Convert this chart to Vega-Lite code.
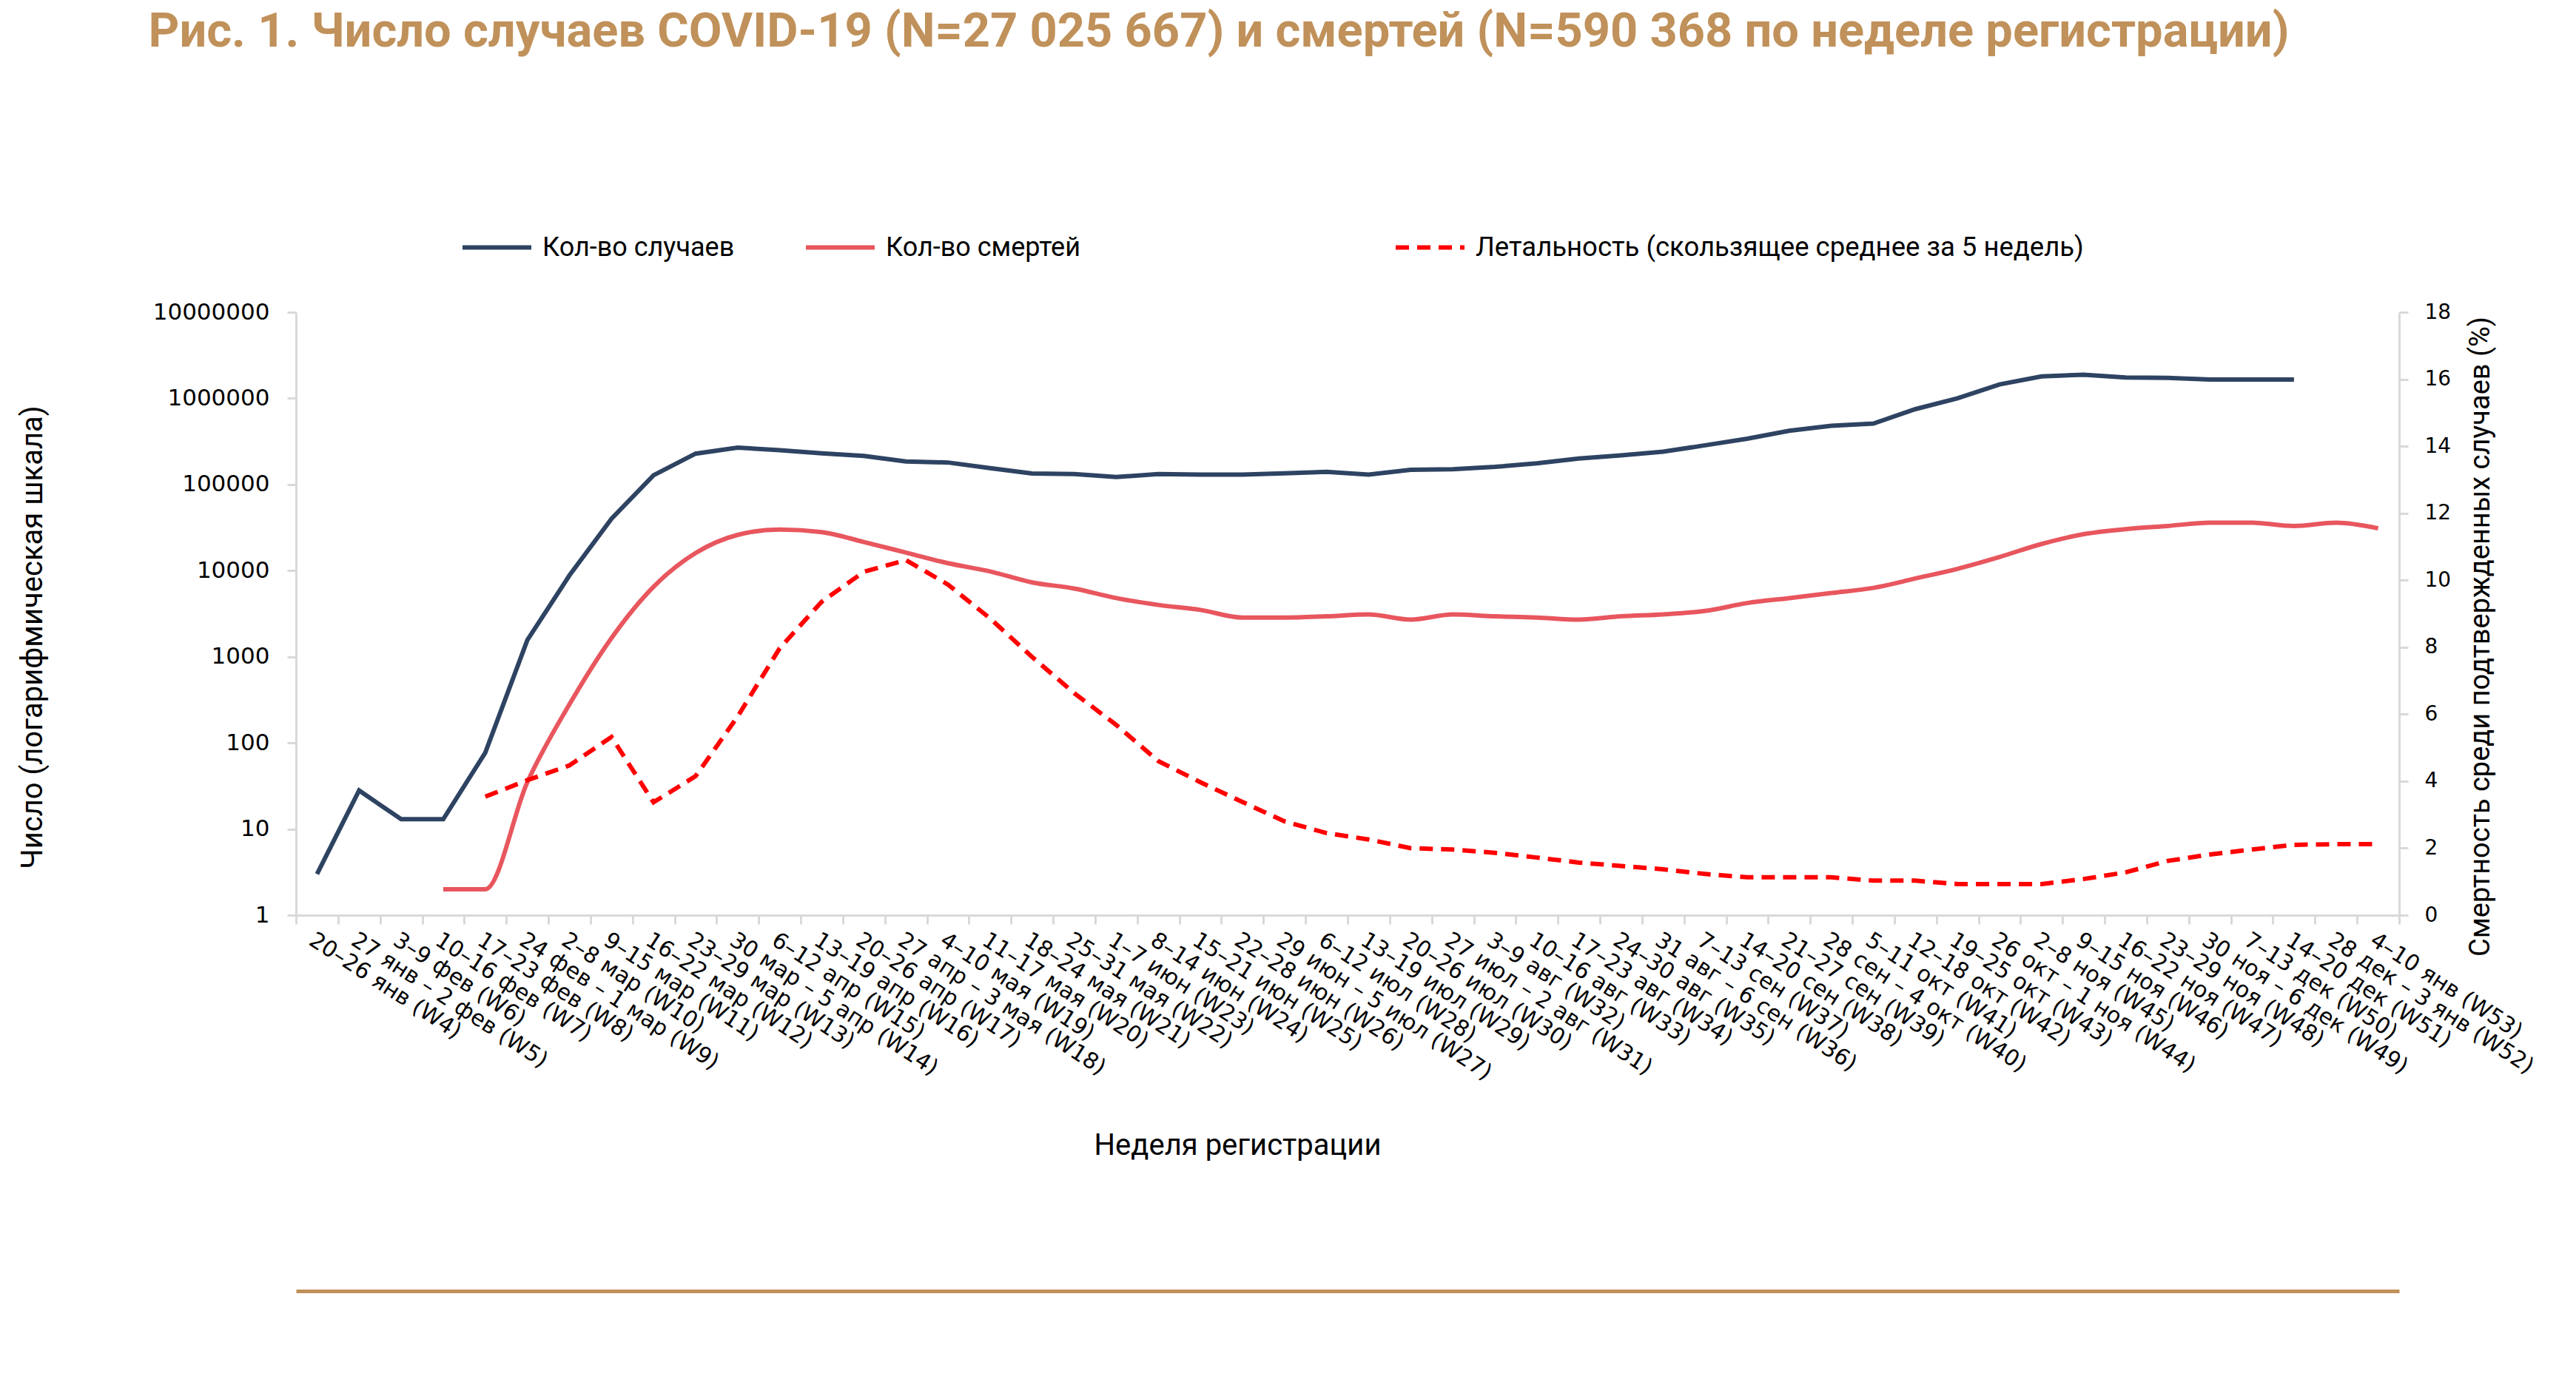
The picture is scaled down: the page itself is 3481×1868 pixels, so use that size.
{
  "$schema": "https://vega.github.io/schema/vega-lite/v6.json",
  "width": 2842,
  "height": 815,
  "autosize": {"type": "none"},
  "padding": {"left": 400, "top": 422, "right": 239, "bottom": 631},
  "background": "white",
  "config": {"view": {"stroke": null}},
  "title": {
    "text": "Рис. 1. Число случаев COVID-19 (N=27 025 667) и смертей (N=590 368 по неделе регистрации)",
    "anchor": "middle", "frame": "group", "dx": -174, "offset": 208,
    "font": "Roboto", "fontSize": 65, "fontWeight": "bold", "color": "#C0915A"
  },
  "data": {"values": [
    {"week": "20–26 янв (W4)", "cases": 3, "deaths": null, "cfr": null},
    {"week": "27 янв – 2 фев (W5)", "cases": 28, "deaths": null, "cfr": null},
    {"week": "3–9 фев (W6)", "cases": 13, "deaths": null, "cfr": null},
    {"week": "10–16 фев (W7)", "cases": 13, "deaths": 2, "cfr": null},
    {"week": "17–23 фев (W8)", "cases": 77, "deaths": 2, "cfr": 3.54},
    {"week": "24 фев – 1 мар (W9)", "cases": 1560, "deaths": 35, "cfr": 4.03},
    {"week": "2–8 мар (W10)", "cases": 8800, "deaths": 280, "cfr": 4.47},
    {"week": "9–15 мар (W11)", "cases": 40000, "deaths": 1650, "cfr": 5.32},
    {"week": "16–22 мар (W12)", "cases": 128000, "deaths": 6500, "cfr": 3.37},
    {"week": "23–29 мар (W13)", "cases": 228000, "deaths": 16000, "cfr": 4.15},
    {"week": "30 мар – 5 апр (W14)", "cases": 268000, "deaths": 26000, "cfr": 5.93},
    {"week": "6–12 апр (W15)", "cases": 250000, "deaths": 30000, "cfr": 7.97},
    {"week": "13–19 апр (W16)", "cases": 230000, "deaths": 28000, "cfr": 9.36},
    {"week": "20–26 апр (W17)", "cases": 215000, "deaths": 21500, "cfr": 10.25},
    {"week": "27 апр – 3 мая (W18)", "cases": 185000, "deaths": 16200, "cfr": 10.6},
    {"week": "4–10 мая (W19)", "cases": 180000, "deaths": 12200, "cfr": 9.87},
    {"week": "11–17 мая (W20)", "cases": 155000, "deaths": 9800, "cfr": 8.86},
    {"week": "18–24 мая (W21)", "cases": 134000, "deaths": 7300, "cfr": 7.71},
    {"week": "25–31 мая (W22)", "cases": 132000, "deaths": 6200, "cfr": 6.63},
    {"week": "1–7 июн (W23)", "cases": 122000, "deaths": 4800, "cfr": 5.68},
    {"week": "8–14 июн (W24)", "cases": 132000, "deaths": 4000, "cfr": 4.6},
    {"week": "15–21 июн (W25)", "cases": 130000, "deaths": 3500, "cfr": 3.97},
    {"week": "22–28 июн (W26)", "cases": 130000, "deaths": 2850, "cfr": 3.38},
    {"week": "29 июн – 5 июл (W27)", "cases": 135000, "deaths": 2850, "cfr": 2.8},
    {"week": "6–12 июл (W28)", "cases": 140000, "deaths": 2950, "cfr": 2.45},
    {"week": "13–19 июл (W29)", "cases": 130000, "deaths": 3100, "cfr": 2.26},
    {"week": "20–26 июл (W30)", "cases": 148000, "deaths": 2700, "cfr": 2.0},
    {"week": "27 июл – 2 авг (W31)", "cases": 150000, "deaths": 3100, "cfr": 1.96},
    {"week": "3–9 авг (W32)", "cases": 160000, "deaths": 2950, "cfr": 1.86},
    {"week": "10–16 авг (W33)", "cases": 176000, "deaths": 2850, "cfr": 1.72},
    {"week": "17–23 авг (W34)", "cases": 200000, "deaths": 2700, "cfr": 1.57},
    {"week": "24–30 авг (W35)", "cases": 218000, "deaths": 2950, "cfr": 1.47},
    {"week": "31 авг – 6 сен (W36)", "cases": 240000, "deaths": 3100, "cfr": 1.37},
    {"week": "7–13 сен (W37)", "cases": 285000, "deaths": 3400, "cfr": 1.23},
    {"week": "14–20 сен (W38)", "cases": 340000, "deaths": 4200, "cfr": 1.13},
    {"week": "21–27 сен (W39)", "cases": 420000, "deaths": 4800, "cfr": 1.13},
    {"week": "28 сен – 4 окт (W40)", "cases": 480000, "deaths": 5500, "cfr": 1.13},
    {"week": "5–11 окт (W41)", "cases": 510000, "deaths": 6300, "cfr": 1.03},
    {"week": "12–18 окт (W42)", "cases": 750000, "deaths": 8100, "cfr": 1.03},
    {"week": "19–25 окт (W43)", "cases": 1000000, "deaths": 10500, "cfr": 0.93},
    {"week": "26 окт – 1 ноя (W44)", "cases": 1450000, "deaths": 14400, "cfr": 0.93},
    {"week": "2–8 ноя (W45)", "cases": 1800000, "deaths": 20400, "cfr": 0.93},
    {"week": "9–15 ноя (W46)", "cases": 1880000, "deaths": 26500, "cfr": 1.08},
    {"week": "16–22 ноя (W47)", "cases": 1750000, "deaths": 30300, "cfr": 1.28},
    {"week": "23–29 ноя (W48)", "cases": 1730000, "deaths": 33000, "cfr": 1.62},
    {"week": "30 ноя – 6 дек (W49)", "cases": 1650000, "deaths": 36000, "cfr": 1.81},
    {"week": "7–13 дек (W50)", "cases": 1650000, "deaths": 36000, "cfr": 1.96},
    {"week": "14–20 дек (W51)", "cases": 1650000, "deaths": 33000, "cfr": 2.1},
    {"week": "28 дек – 3 янв (W52)", "cases": null, "deaths": 36000, "cfr": 2.12},
    {"week": "4–10 янв (W53)", "cases": null, "deaths": 31000, "cfr": 2.12}
  ]},
  "layer": [
    {
      "encoding": {
        "x": {
          "field": "week", "type": "ordinal",
          "scale": {"type": "band", "paddingInner": 0, "paddingOuter": 0, "domain": ["20–26 янв (W4)", "27 янв – 2 фев (W5)", "3–9 фев (W6)", "10–16 фев (W7)", "17–23 фев (W8)", "24 фев – 1 мар (W9)", "2–8 мар (W10)", "9–15 мар (W11)", "16–22 мар (W12)", "23–29 мар (W13)", "30 мар – 5 апр (W14)", "6–12 апр (W15)", "13–19 апр (W16)", "20–26 апр (W17)", "27 апр – 3 мая (W18)", "4–10 мая (W19)", "11–17 мая (W20)", "18–24 мая (W21)", "25–31 мая (W22)", "1–7 июн (W23)", "8–14 июн (W24)", "15–21 июн (W25)", "22–28 июн (W26)", "29 июн – 5 июл (W27)", "6–12 июл (W28)", "13–19 июл (W29)", "20–26 июл (W30)", "27 июл – 2 авг (W31)", "3–9 авг (W32)", "10–16 авг (W33)", "17–23 авг (W34)", "24–30 авг (W35)", "31 авг – 6 сен (W36)", "7–13 сен (W37)", "14–20 сен (W38)", "21–27 сен (W39)", "28 сен – 4 окт (W40)", "5–11 окт (W41)", "12–18 окт (W42)", "19–25 окт (W43)", "26 окт – 1 ноя (W44)", "2–8 ноя (W45)", "9–15 ноя (W46)", "16–22 ноя (W47)", "23–29 ноя (W48)", "30 ноя – 6 дек (W49)", "7–13 дек (W50)", "14–20 дек (W51)", "28 дек – 3 янв (W52)", "4–10 янв (W53)"]},
          "axis": {
            "orient": "bottom",
            "title": "Неделя регистрации", "titleX": 1272, "titleY": 311, "titleAlign": "center", "titleBaseline": "middle",
            "titleFont": "Roboto", "titleFontSize": 40, "titleFontWeight": "normal", "titleColor": "#000000",
            "labelAngle": 33, "labelAlign": "left", "labelBaseline": "top", "labelPadding": 6, "labelLimit": 2000, "labelOverlap": false,
            "labelFont": "DejaVu Sans", "labelFontSize": 30, "labelColor": "#000000",
            "tickBand": "extent", "tickSize": 12, "tickWidth": 3, "tickColor": "#D9D9D9",
            "domainColor": "#D9D9D9", "domainWidth": 3, "grid": false
          }
        }
      },
      "layer": [
        {
          "mark": {"type": "line", "strokeWidth": 6, "interpolate": "linear"},
          "encoding": {
            "y": {
              "field": "cases", "type": "quantitative",
              "scale": {"type": "log", "domain": [1, 10000000]},
              "title": "Число (логарифмическая шкала)",
              "axis": {
                "values": [1, 10, 100, 1000, 10000, 100000, 1000000, 10000000], "format": "d",
                "labelFont": "DejaVu Sans", "labelFontSize": 31, "labelColor": "#000000", "labelPadding": 24,
                "tickSize": 12, "tickWidth": 3, "tickColor": "#D9D9D9", "domainColor": "#D9D9D9", "domainWidth": 3, "grid": false,
                "titleX": -356, "titleY": 439, "titleAngle": 270, "titleAlign": "center", "titleBaseline": "middle",
                "titleFont": "Roboto", "titleFontSize": 40, "titleFontWeight": "normal", "titleColor": "#000000"
              }
            },
            "color": {
              "datum": "Кол-во случаев",
              "scale": {"domain": ["Кол-во случаев"], "range": ["#2E4362"]},
              "legend": {
                "orient": "none", "legendX": 222, "legendY": -137, "title": null, "padding": 0,
                "symbolType": "stroke", "symbolSize": 8649, "symbolStrokeWidth": 6, "labelOffset": 12,
                "labelFont": "Roboto", "labelFontSize": 36, "labelColor": "#000000", "labelLimit": 2000
              }
            }
          }
        },
        {
          "mark": {"type": "line", "strokeWidth": 6, "interpolate": "monotone"},
          "encoding": {
            "y": {
              "field": "deaths", "type": "quantitative",
              "scale": {"type": "log", "domain": [1, 10000000]},
              "title": "Число (логарифмическая шкала)"
            },
            "stroke": {
              "datum": "Кол-во смертей",
              "scale": {"domain": ["Кол-во смертей"], "range": ["#E8565E"]},
              "legend": {
                "orient": "none", "legendX": 686, "legendY": -137, "title": null, "padding": 0,
                "symbolType": "stroke", "symbolSize": 8649, "symbolStrokeWidth": 6, "labelOffset": 12,
                "labelFont": "Roboto", "labelFontSize": 36, "labelColor": "#000000", "labelLimit": 2000
              }
            }
          }
        }
      ]
    },
    {
      "mark": {"type": "line", "strokeWidth": 6, "color": "#FF0000", "interpolate": "linear"},
      "encoding": {
        "x": {
          "field": "week", "type": "ordinal",
          "scale": {"type": "band", "paddingInner": 0, "paddingOuter": 0},
          "axis": {"orient": "bottom", "offset": 508, "labels": false, "ticks": false, "title": null, "grid": false, "domainColor": "#C0915A", "domainWidth": 5}
        },
        "y": {
          "field": "cfr", "type": "quantitative",
          "scale": {"domain": [0, 18]},
          "title": "Смертность среди подтвержденных случаев (%)",
          "axis": {
            "orient": "right", "values": [0, 2, 4, 6, 8, 10, 12, 14, 16, 18],
            "labelFont": "DejaVu Sans", "labelFontSize": 28, "labelColor": "#000000", "labelPadding": 22,
            "tickSize": 12, "tickWidth": 3, "tickColor": "#D9D9D9", "domainColor": "#D9D9D9", "domainWidth": 3, "grid": false,
            "titleX": 110, "titleY": 438, "titleAngle": 270, "titleAlign": "center", "titleBaseline": "middle",
            "titleFont": "Roboto", "titleFontSize": 38, "titleFontWeight": "normal", "titleColor": "#000000"
          }
        },
        "strokeDash": {
          "datum": "Летальность (скользящее среднее за 5 недель)",
          "scale": {"domain": ["Летальность (скользящее среднее за 5 недель)"], "range": [[18, 11]]},
          "legend": {
            "orient": "none", "legendX": 1483, "legendY": -137, "title": null, "padding": 0,
            "symbolType": "stroke", "symbolSize": 8649, "symbolStrokeWidth": 6, "symbolStrokeColor": "#FF0000", "labelOffset": 12,
            "labelFont": "Roboto", "labelFontSize": 36.5, "labelColor": "#000000", "labelLimit": 2000
          }
        }
      }
    }
  ],
  "resolve": {"scale": {"y": "independent"}, "axis": {"x": "independent"}}
}
